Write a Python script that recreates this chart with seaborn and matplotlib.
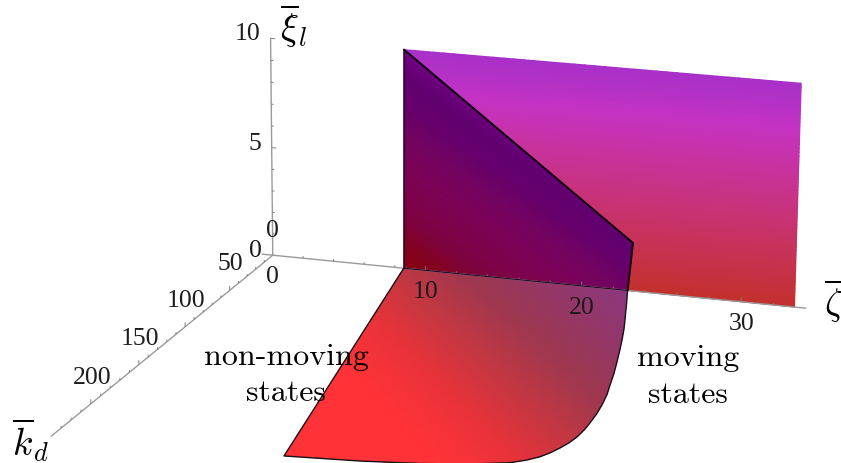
import matplotlib
matplotlib.use("Agg")
import matplotlib.pyplot as plt
import numpy as np
import seaborn as sns
from matplotlib.collections import LineCollection
from matplotlib.patches import Polygon

# boundary of the non-moving region on the floor (zeta, k_d)
FLOOR_ZETA = [8.58, 13.69, 18.01, 21.31, 23.97, 26.0, 26.76, 27.27, 27.6, 27.87, 28.08, 28.2, 28.22, 28.16,
              28.04, 27.86, 27.58, 27.23, 26.82, 26.36, 25.9, 25.42, 24.95, 24.46, 24.06, 23.68, 22.9]
FLOOR_K = [0, 232.9, 229.2, 224.7, 219.3, 213.2, 208.3, 203.3, 198, 191.6, 185, 177.7, 169, 160.8,
           150, 139.3, 127, 115.7, 102, 88.2, 75, 61.5, 49, 37.0, 27.5, 18.3, 0]

# sheet in the k_d = 0 plane (zeta, xi_l)
SHEET_ZETA = [8.6, 23.19, 22.9, 8.6]
SHEET_XI = [10, 2.19, 0, 0]

# back wall extent
WALL_ZETA = [8.6, 33.3]
WALL_XI = [0, 10]

ZETA_END = 34.0
K_END = 240
XI_END = 10

ZETA_TICKS = [10, 20, 30]
K_TICKS = [50, 100, 150, 200]
XI_TICKS = [5, 10]

# camera of the 3d view, fitted on the tick positions
CAMERA = np.array([
    [14.846182, -0.9413662, -0.662630, 272.767071],
    [1.239960, 0.6014657, -21.749583, 255.196462],
    [-0.001034, -0.0003508, -0.001642, 1.0],
])


def project(zeta, k, xi):
    zeta, k, xi = np.broadcast_arrays(np.asarray(zeta, float), np.asarray(k, float), np.asarray(xi, float))
    pts = np.stack([zeta, k, xi, np.ones_like(zeta)], axis=-1)
    h = pts @ CAMERA.T
    return h[..., 0] / h[..., 2], h[..., 1] / h[..., 2]


def rgb(*colors):
    return [tuple(c / 255 for c in col) for col in colors]


sns.set_theme(style="white")
plt.rcParams["mathtext.fontset"] = "cm"
plt.rcParams["lines.solid_joinstyle"] = "round"

fig = plt.figure(figsize=(8.41, 4.63), dpi=100)
ax = fig.add_axes([0, 0, 1, 1])

wall_cmap = sns.blend_palette(rgb((195, 48, 45), (198, 50, 80), (200, 50, 118), (200, 50, 155), (196, 50, 195), (168, 48, 200)), as_cmap=True)
floor_cmap = sns.blend_palette(rgb((255, 50, 55), (255, 50, 55), (255, 50, 55), (235, 50, 58), (195, 55, 66), (158, 55, 80), (148, 55, 105), (140, 55, 128)), as_cmap=True)
sheet_cmap = sns.blend_palette(rgb((140, 0, 15), (130, 2, 35), (125, 2, 65), (125, 2, 78), (122, 2, 88), (115, 3, 97), (104, 0, 108), (98, 0, 112), (114, 0, 130)), as_cmap=True)


def line(xs, ys, color, lw, alpha=1.0, zorder=3):
    sns.lineplot(x=xs, y=ys, sort=False, estimator=None, color=color, linewidth=lw, alpha=alpha, ax=ax, zorder=zorder)


# back wall
zz, xx = np.meshgrid(np.linspace(*WALL_ZETA, 40), np.linspace(*WALL_XI, 60))
u, v = project(zz, 0, xx)
ax.pcolormesh(u, v, xx, cmap=wall_cmap, shading="gouraud", vmin=0, vmax=10, zorder=1)

# floor, shaded along the diagonal
zz, kk = np.meshgrid(np.linspace(8, 29, 60), np.linspace(-2, 240, 60))
u, v = project(zz, kk, 0)
shade = 10.46 * zz - 1.17 * kk + 70
mesh = ax.pcolormesh(u, v, shade, cmap=floor_cmap, shading="gouraud", vmin=-65, vmax=310, zorder=2)
fu, fv = project(FLOOR_ZETA, FLOOR_K, 0)
clip = Polygon(np.column_stack([fu, fv]), closed=True, transform=ax.transData, fill=False, edgecolor="none")
ax.add_patch(clip)
mesh.set_clip_path(clip)
line(fu, fv, "#1a1018", 1.0, zorder=5)

# sheet in front of the wall
zz, xx = np.meshgrid(np.linspace(8.4, 23.4, 60), np.linspace(-0.1, 10.1, 60))
u, v = project(zz, 0, xx)
shade = xx + 0.45 * (zz - 8.6)
mesh = ax.pcolormesh(u, v, shade, cmap=sheet_cmap, shading="gouraud", vmin=0, vmax=10, zorder=3)
su, sv = project(SHEET_ZETA, 0, SHEET_XI)
clip = Polygon(np.column_stack([su, sv]), closed=True, transform=ax.transData, fill=False, edgecolor="none")
ax.add_patch(clip)
mesh.set_clip_path(clip)

# axes
axis_color = "#9a9a9a"
for end in [(ZETA_END, 0, 0), (0, K_END, 0), (0, 0, XI_END), (-0.7, 0, 0)]:
    eu, ev = project([0, end[0]], [0, end[1]], [0, end[2]])
    line(eu, ev, axis_color, 1.0, zorder=4)

segs = []
for z in np.arange(2, 34, 2):
    major = z in ZETA_TICKS
    a, b = project([z, z], 0, [0, 0.2 if major else 0.1])
    segs.append(np.column_stack([a, b]))
for k in np.arange(10, 240, 10):
    major = k in K_TICKS
    a, b = project(0, [k, k], [0, 0.2 if major else 0.1])
    segs.append(np.column_stack([a, b]))
for x in np.arange(1, 11, 1):
    major = x in XI_TICKS
    a, b = project([0, 0.3 if major else 0.15], 0, [x, x])
    segs.append(np.column_stack([a, b]))
ax.add_collection(LineCollection(segs, colors="#808080", linewidths=0.7, zorder=4))

# outline of the sheet, over the axis
line(su[:3], sv[:3], "#0c000c", 1.4, zorder=6)
line(su[[0, 3]], sv[[0, 3]], "#1a001a", 1.0, zorder=6)
line(su[2:], sv[2:], "#2a0a2a", 0.9, zorder=6)

# tick labels
tick_font = dict(family="Liberation Serif", fontsize=18.5, color="#1c1c1c", ha="center", va="center", zorder=7)
for z in ZETA_TICKS:
    a, b = project(z, 0, 0)
    ax.text(a, b + 22, str(z), **tick_font)
for k in K_TICKS:
    a, b = project(0, k, 0)
    ax.text(a + 1, b - 26, str(k), **tick_font)
for x in XI_TICKS:
    a, b = project(0, 0, x)
    ax.text(a - (23 if x == 10 else 17), b - 4, str(x), **tick_font)
a, b = project(0, 0, 0)
ax.text(a, b + 22, "0", **tick_font)
ax.text(a - 17, b - 4, "0", **tick_font)
ax.text(a, b - 24, "0", **tick_font)

# axis titles
ax.text(307, 26, r"$\overline{\xi}_l$", fontsize=27, color="black", ha="right", va="center", zorder=7)
ax.text(30, 440, r"$\overline{k}_d$", fontsize=27, color="black", ha="center", va="center", zorder=7)
ax.text(824, 301, r"$\overline{\zeta}$", fontsize=27, color="black", ha="left", va="center", zorder=7)

# region labels
state_font = dict(family="cmr10", fontsize=23, color="black", ha="center", va="center", zorder=7)
ax.text(286, 357, "non-moving", **state_font)
ax.text(286, 393, "states", **state_font)
ax.text(688, 358, "moving", **state_font)
ax.text(688, 395, "states", **state_font)

ax.set_xlim(0, 841)
ax.set_ylim(463, 0)
ax.set_axis_off()

fig.savefig("out.png", dpi=100)
plt.close(fig)
